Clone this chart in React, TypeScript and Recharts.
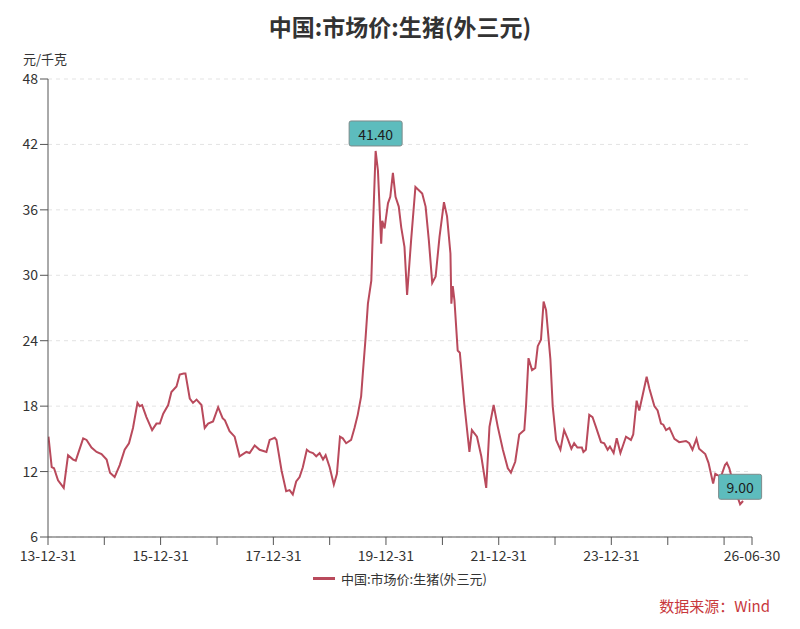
import React from 'react'
import {
  LineChart,
  Line,
  XAxis,
  YAxis,
  CartesianGrid,
  Legend,
  ReferenceDot,
} from 'recharts'

// 中国:市场价:生猪(外三元), 元/千克
const dates = [
  '2014-01-03', '2014-01-24', '2014-02-08', '2014-03-06', '2014-04-12', '2014-05-10', '2014-06-12',
  '2014-06-29', '2014-08-16', '2014-09-07', '2014-10-09', '2014-11-11', '2014-12-13',
  '2015-01-15', '2015-02-06', '2015-03-08', '2015-04-10', '2015-05-12', '2015-06-09', '2015-07-05',
  '2015-08-03', '2015-08-17', '2015-09-02', '2015-09-30', '2015-11-06', '2015-12-04', '2015-12-26',
  '2016-01-17', '2016-02-18', '2016-03-10', '2016-04-12', '2016-05-03', '2016-05-29', '2016-06-09',
  '2016-07-07', '2016-07-28', '2016-08-20', '2016-09-21', '2016-10-12', '2016-11-03', '2016-12-05',
  '2017-01-07', '2017-02-05', '2017-02-20', '2017-03-22', '2017-04-24', '2017-05-26', '2017-07-09',
  '2017-07-30', '2017-09-01', '2017-10-03', '2017-11-16', '2017-12-07',
  '2018-01-09', '2018-01-20', '2018-02-22', '2018-03-24', '2018-04-15', '2018-05-06', '2018-05-28',
  '2018-06-19', '2018-07-10', '2018-08-05', '2018-08-23', '2018-09-14', '2018-10-05', '2018-10-27',
  '2018-11-18', '2018-12-05', '2018-12-31',
  '2019-01-27', '2019-02-16', '2019-03-08', '2019-03-26', '2019-04-17', '2019-05-19', '2019-06-10',
  '2019-07-01', '2019-07-23', '2019-08-03', '2019-08-20', '2019-09-05', '2019-09-27', '2019-10-07',
  '2019-10-25', '2019-11-09', '2019-11-30', '2019-12-07', '2019-12-22',
  '2020-01-13', '2020-01-28', '2020-02-14', '2020-03-02', '2020-03-23', '2020-04-08', '2020-04-29',
  '2020-05-16', '2020-06-11', '2020-07-09', '2020-07-31', '2020-08-22', '2020-09-13', '2020-10-04',
  '2020-10-26', '2020-11-17', '2020-12-12',
  '2021-01-10', '2021-01-30', '2021-02-21', '2021-02-27', '2021-03-08', '2021-03-19', '2021-04-09',
  '2021-04-23', '2021-05-22', '2021-06-24', '2021-07-10', '2021-08-12', '2021-09-09', '2021-10-11',
  '2021-11-01', '2021-11-28', '2021-12-25',
  '2022-01-27', '2022-02-28', '2022-03-20', '2022-04-17', '2022-05-13', '2022-06-15', '2022-06-26',
  '2022-07-12', '2022-08-04', '2022-08-25', '2022-09-10', '2022-10-01', '2022-10-18', '2022-11-03',
  '2022-12-01', '2022-12-16',
  '2023-01-07', '2023-02-04', '2023-02-28', '2023-03-22', '2023-04-16', '2023-05-04', '2023-05-25',
  '2023-06-23', '2023-07-03', '2023-07-19', '2023-08-10', '2023-08-31', '2023-09-22', '2023-10-25',
  '2023-11-15', '2023-12-07', '2023-12-22',
  '2024-01-15', '2024-02-04', '2024-02-28', '2024-04-04', '2024-05-06', '2024-05-21', '2024-06-12',
  '2024-06-29', '2024-07-21', '2024-08-16', '2024-09-03', '2024-10-05', '2024-10-26', '2024-11-17',
  '2024-12-02', '2024-12-20',
  '2025-01-11', '2025-02-12', '2025-03-15', '2025-04-28', '2025-05-19', '2025-06-09', '2025-07-05',
  '2025-07-22', '2025-08-31', '2025-09-21', '2025-10-21', '2025-11-04', '2025-12-10',
  '2026-01-06', '2026-01-18', '2026-02-03', '2026-03-06', '2026-04-14', '2026-05-03',
]

const prices = [
  15.2, 12.4, 12.3, 11.2, 10.5, 13.5, 13.1, 13.0, 15.05, 14.9, 14.2, 13.8, 13.6,
  13.1, 11.9, 11.5, 12.6, 14.0, 14.6, 16.0, 18.3, 18.0, 18.1, 17.0, 15.8, 16.4, 16.4,
  17.3, 18.1, 19.3, 19.8, 20.9, 21.0, 21.0, 18.7, 18.3, 18.6, 18.1, 16.0, 16.4, 16.6,
  17.9, 16.9, 16.7, 15.7, 15.2, 13.4, 13.8, 13.7, 14.4, 14.0, 13.8, 14.9,
  15.1, 14.9, 12.1, 10.2, 10.3, 9.9, 11.1, 11.5, 12.4, 14.0, 13.8, 13.7, 13.4, 13.7, 13.1, 13.5, 12.4,
  10.8, 11.8, 15.2, 15.05, 14.6, 14.9, 16.0, 17.2, 18.9, 21.0, 24.1, 27.4, 29.5, 34.1, 41.4, 39.6,
  32.9, 35.0, 34.3,
  36.6, 37.2, 39.4, 37.2, 36.3, 34.4, 32.6, 28.2, 33.2, 38.1, 37.8, 37.5, 36.3, 33.2, 29.3, 29.9, 33.5,
  36.7, 35.4, 32.0, 27.4, 29.0, 27.7, 23.1, 22.9, 18.2, 13.8, 15.8, 15.2, 13.4, 10.5, 16.1, 18.1, 16.1,
  14.0, 12.3, 11.9, 12.9, 15.4, 15.8, 18.0, 22.4, 21.3, 21.5, 23.5, 24.1, 27.6, 26.8, 22.3, 18.0,
  14.9, 14.0, 15.8, 15.05, 14.1, 14.6, 14.2, 14.2, 13.8, 14.0, 17.2, 17.0, 16.1, 14.7, 14.6, 14.0, 14.3,
  13.7, 15.05, 13.7, 15.2, 14.9, 15.4, 18.5, 17.6, 19.0, 20.7, 19.6, 18.0, 17.6, 16.4, 16.3, 15.8,
  16.0, 15.0, 14.7, 14.8, 14.6, 14.0, 15.0, 14.1, 13.6, 12.8, 10.9, 11.8, 11.5,
  12.6, 12.8, 12.3, 10.6, 9.0, 9.3,
]

const xTickDates = [
  '2013-12-31', '2014-12-31', '2015-12-31', '2016-12-31', '2017-12-31', '2018-12-31', '2019-12-31',
  '2020-12-31', '2021-12-31', '2022-12-31', '2023-12-31', '2024-12-31', '2025-12-31', '2026-06-30',
]
const xTickLabels = [
  '13-12-31', '', '15-12-31', '', '17-12-31', '', '19-12-31',
  '', '21-12-31', '', '23-12-31', '', '', '26-06-30',
]
const yTicks = [6, 12, 18, 24, 30, 36, 42, 48]

const seriesName = '中国:市场价:生猪(外三元)'
const lineColor = '#b94a5c'
const font = '"Noto Sans CJK SC", "Noto Sans", sans-serif'

const data = dates.map((d, i) => ({ t: Date.parse(d), v: prices[i] }))
const xTicks = xTickDates.map((d) => Date.parse(d))
const labelFor = (t: number) => xTickLabels[xTicks.indexOf(t)] ?? ''

const maxIdx = prices.indexOf(Math.max(...prices))
const minIdx = prices.indexOf(Math.min(...prices))

// eslint-disable-next-line @typescript-eslint/no-explicit-any
const MarkBox = ({ cx, cy, text, w }: any) => (
  <g>
    <rect
      x={cx - w / 2}
      y={cy - 30}
      width={w}
      height={25}
      rx={2}
      fill="#5dbcbd"
      stroke="#7d8b8b"
      strokeWidth={1}
    />
    <text
      x={cx}
      y={cy - 17}
      textAnchor="middle"
      dominantBaseline="central"
      fontSize={14}
      fill="#1d1d1d"
      fontFamily={font}
    >
      {text}
    </text>
  </g>
)

const LegendBox = () => (
  <div
    style={{
      height: 20,
      display: 'flex',
      alignItems: 'center',
      justifyContent: 'center',
      fontFamily: font,
      fontSize: 13,
      color: '#333',
    }}
  >
    <span
      style={{ width: 22, height: 3, background: lineColor, marginRight: 6, display: 'inline-block' }}
    />
    {seriesName}
  </div>
)

export default function App() {
  return (
    <div
      style={{
        position: 'absolute',
        left: 0,
        top: 0,
        width: 800,
        height: 629,
        background: '#fff',
        fontFamily: font,
      }}
    >
      <div
        style={{
          position: 'absolute',
          top: 9,
          width: 800,
          textAlign: 'center',
          fontSize: 23,
          fontWeight: 700,
          color: '#333',
        }}
      >
        {seriesName}
      </div>
      <div style={{ position: 'absolute', left: 23, top: 49, fontSize: 13, color: '#333' }}>
        元/千克
      </div>
      <div style={{ position: 'absolute', right: 30, top: 595, fontSize: 15, color: '#c8383c' }}>
        数据来源：Wind
      </div>
      <LineChart
        width={800}
        height={629}
        data={data}
        margin={{ top: 79, right: 48, bottom: 41, left: 0 }}
      >
        <CartesianGrid
          horizontal
          vertical={false}
          stroke="#e3e3e3"
          strokeDasharray="4 4"
        />
        <XAxis
          dataKey="t"
          type="number"
          scale="time"
          domain={[xTicks[0], xTicks[xTicks.length - 1]]}
          ticks={xTicks}
          interval={0}
          tickFormatter={labelFor}
          height={31}
          tickSize={8}
          tickMargin={6}
          stroke="#555"
          tick={{ fill: '#333', fontSize: 14, fontFamily: font }}
          allowDataOverflow
        />
        <YAxis
          domain={[6, 48]}
          ticks={yTicks}
          interval={0}
          width={48}
          tickSize={8}
          tickMargin={2}
          stroke="#555"
          tick={{ fill: '#333', fontSize: 14, fontFamily: font }}
        />
        <Legend
          verticalAlign="bottom"
          content={<LegendBox />}
          wrapperStyle={{ left: 0, width: 800 }}
        />
        <Line
          type="linear"
          dataKey="v"
          name={seriesName}
          stroke={lineColor}
          strokeWidth={2}
          dot={false}
          isAnimationActive={false}
        />
        <ReferenceDot
          x={data[maxIdx].t}
          y={prices[maxIdx]}
          ifOverflow="visible"
          shape={(p: any) => <MarkBox {...p} text={prices[maxIdx].toFixed(2)} w={53} />}
        />
        <ReferenceDot
          x={data[minIdx].t}
          y={prices[minIdx]}
          ifOverflow="visible"
          shape={(p: any) => <MarkBox {...p} text={prices[minIdx].toFixed(2)} w={43} />}
        />
      </LineChart>
    </div>
  )
}
